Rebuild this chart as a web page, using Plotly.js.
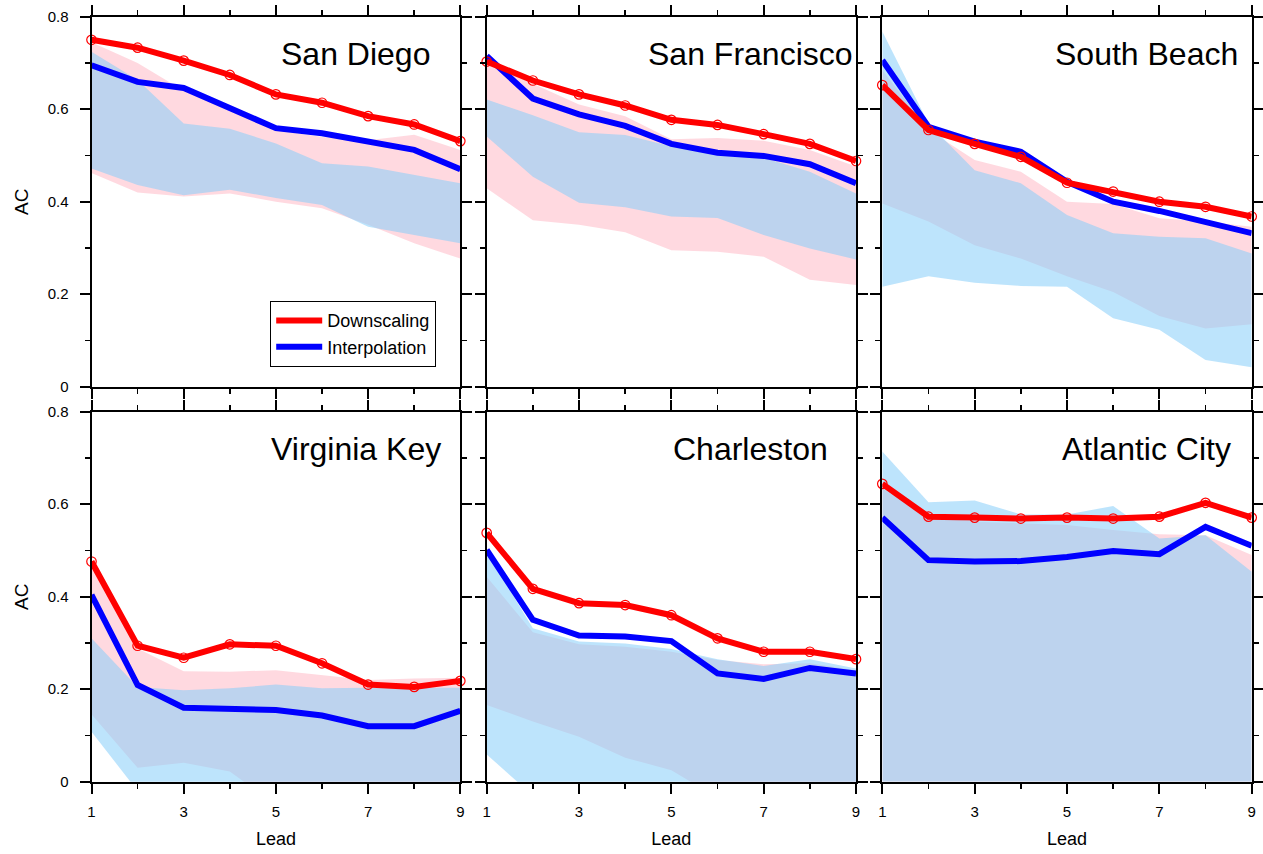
<!DOCTYPE html>
<html><head><meta charset="utf-8">
<script src="https://cdn.plot.ly/plotly-3.0.1.min.js"></script>
<style>body{margin:0;background:#fff}</style>
</head><body><div id="chart" style="width:1263px;height:854px"></div>
<script>
const leads = [1,2,3,4,5,6,7,8,9];
const xTickVals = [1,3,5,7,9];
const yTickVals = [0,0.2,0.4,0.6,0.8];
const stations = ["San Diego","San Francisco","South Beach","Virginia Key","Charleston","Atlantic City"];

// Downscaling mean AC, Interpolation mean AC, and band bounds, per station
const sanDiegoDown      = [0.750,0.733,0.705,0.674,0.632,0.614,0.585,0.567,0.531];
const sanDiegoInterp    = [0.695,0.659,0.646,0.604,0.559,0.548,0.530,0.512,0.470];
const sanDiegoDownHi    = [0.745,0.700,0.640,0.600,0.555,0.540,0.533,0.545,0.512];
const sanDiegoDownLo    = [0.462,0.420,0.411,0.418,0.400,0.386,0.350,0.310,0.277];
const sanDiegoInterpHi  = [0.724,0.663,0.569,0.558,0.526,0.483,0.476,0.458,0.440];
const sanDiegoInterpLo  = [0.472,0.436,0.414,0.426,0.408,0.393,0.346,0.328,0.310];

const sanFranDown       = [0.703,0.662,0.632,0.608,0.577,0.566,0.546,0.525,0.488];
const sanFranInterp     = [0.715,0.623,0.589,0.564,0.525,0.506,0.499,0.481,0.440];
const sanFranDownHi     = [0.700,0.655,0.610,0.585,0.535,0.538,0.532,0.512,0.476];
const sanFranDownLo     = [0.429,0.360,0.350,0.334,0.295,0.292,0.281,0.231,0.220];
const sanFranInterpHi   = [0.621,0.587,0.550,0.544,0.520,0.505,0.495,0.465,0.418];
const sanFranInterpLo   = [0.541,0.454,0.398,0.388,0.368,0.365,0.328,0.299,0.275];

const southBeachDown     = [0.652,0.555,0.525,0.497,0.441,0.422,0.400,0.389,0.368];
const southBeachInterp   = [0.706,0.562,0.530,0.508,0.443,0.400,0.380,0.355,0.332];
const southBeachDownHi   = [0.685,0.555,0.490,0.465,0.400,0.395,0.364,0.357,0.346];
const southBeachDownLo   = [0.396,0.357,0.306,0.277,0.239,0.205,0.153,0.126,0.135];
const southBeachInterpHi = [0.768,0.569,0.468,0.440,0.371,0.332,0.324,0.321,0.288];
const southBeachInterpLo = [0.216,0.239,0.225,0.218,0.216,0.148,0.123,0.058,0.042];

const virginiaKeyDown     = [0.476,0.294,0.268,0.297,0.294,0.256,0.210,0.205,0.218];
const virginiaKeyInterp   = [0.404,0.209,0.160,0.159,0.155,0.143,0.120,0.120,0.153];
const virginiaKeyDownHi   = [0.468,0.288,0.239,0.238,0.241,0.231,0.220,0.223,0.225];
const virginiaKeyDownLo   = [0.146,0.030,0.041,0.022,-0.050,-0.060,-0.070,-0.070,-0.080];
const virginiaKeyInterpHi = [0.310,0.205,0.198,0.202,0.210,0.202,0.203,0.203,0.203];
const virginiaKeyInterpLo = [0.108,-0.020,-0.030,-0.040,-0.060,-0.080,-0.090,-0.090,-0.100];

const charlestonDown     = [0.538,0.417,0.386,0.382,0.360,0.310,0.281,0.281,0.265];
const charlestonInterp   = [0.501,0.350,0.316,0.314,0.304,0.234,0.222,0.246,0.234];
const charlestonDownHi   = [0.443,0.323,0.297,0.292,0.281,0.263,0.254,0.256,0.241];
const charlestonDownLo   = [0.166,0.130,0.097,0.052,0.025,-0.035,-0.045,-0.050,-0.060];
const charlestonInterpHi = [0.497,0.332,0.303,0.299,0.287,0.265,0.250,0.265,0.245];
const charlestonInterpLo = [0.059,-0.030,-0.050,-0.060,-0.070,-0.080,-0.090,-0.100,-0.100];

const atlanticCityDown     = [0.644,0.573,0.571,0.569,0.571,0.569,0.573,0.603,0.571];
const atlanticCityInterp   = [0.571,0.479,0.476,0.477,0.486,0.499,0.492,0.551,0.510];
const atlanticCityDownHi   = [0.634,0.573,0.562,0.559,0.555,0.544,0.535,0.533,0.490];
const atlanticCityDownLo   = [0,0,0,0,0,0,0,0,0];
const atlanticCityInterpHi = [0.714,0.604,0.608,0.578,0.578,0.596,0.526,0.533,0.454];
const atlanticCityInterpLo = [0,0,0,0,0,0,0,0,0];

const panels = [
  [sanDiegoDown, sanDiegoInterp, sanDiegoDownHi, sanDiegoDownLo, sanDiegoInterpHi, sanDiegoInterpLo],
  [sanFranDown, sanFranInterp, sanFranDownHi, sanFranDownLo, sanFranInterpHi, sanFranInterpLo],
  [southBeachDown, southBeachInterp, southBeachDownHi, southBeachDownLo, southBeachInterpHi, southBeachInterpLo],
  [virginiaKeyDown, virginiaKeyInterp, virginiaKeyDownHi, virginiaKeyDownLo, virginiaKeyInterpHi, virginiaKeyInterpLo],
  [charlestonDown, charlestonInterp, charlestonDownHi, charlestonDownLo, charlestonInterpHi, charlestonInterpLo],
  [atlanticCityDown, atlanticCityInterp, atlanticCityDownHi, atlanticCityDownLo, atlanticCityInterpHi, atlanticCityInterpLo]
];

const W = 1263, H = 854;
const colPx = [[91.5,460.3],[486.7,856.0],[882.3,1251.7]];
const rowPx = [[16.7,386.7],[411.7,781.7]];
const FONT = "Liberation Sans, Arial, Helvetica, sans-serif";
const RED = "#ff0000", BLUE = "#0000ff";
const PINK_FILL = "rgba(255,192,203,0.6)";
const BLUE_FILL = "rgba(135,206,250,0.55)";

const traces = [];
const layout = {
  width: W, height: H,
  margin: {l:0, r:0, t:0, b:0},
  paper_bgcolor: "#ffffff", plot_bgcolor: "#ffffff",
  font: {family: FONT, color: "#000000", size: 15},
  showlegend: true,
  legend: {
    x: 270/W, y: 1 - 301/H, xanchor: "left", yanchor: "top",
    bordercolor: "#000000", borderwidth: 1.2, bgcolor: "#ffffff",
    font: {family: FONT, size: 18, color: "#000000"},
    itemwidth: 46, tracegroupgap: 0
  },
  annotations: []
};

panels.forEach((p, i) => {
  const [down, interp, dHi, dLo, iHi, iLo] = p;
  const s = i === 0 ? "" : String(i + 1);
  const xa = "x" + s, ya = "y" + s;
  const col = i % 3, row = Math.floor(i / 3);
  const base = {x: leads, xaxis: xa, yaxis: ya, hoverinfo: "skip", showlegend: false};

  traces.push(Object.assign({}, base, {y: dLo, mode: "lines", line: {width: 0, color: "rgba(0,0,0,0)"}}));
  traces.push(Object.assign({}, base, {y: dHi, mode: "lines", line: {width: 0, color: "rgba(0,0,0,0)"}, fill: "tonexty", fillcolor: PINK_FILL}));
  traces.push(Object.assign({}, base, {y: iLo, mode: "lines", line: {width: 0, color: "rgba(0,0,0,0)"}}));
  traces.push(Object.assign({}, base, {y: iHi, mode: "lines", line: {width: 0, color: "rgba(0,0,0,0)"}, fill: "tonexty", fillcolor: BLUE_FILL}));
  traces.push(Object.assign({}, base, {y: interp, mode: "lines", name: "Interpolation",
    line: {width: 6, color: BLUE}, showlegend: i === 0, legendgroup: "interp", legendrank: 2}));
  traces.push(Object.assign({}, base, {y: down, mode: "lines", name: "Downscaling",
    line: {width: 6, color: RED}, showlegend: i === 0, legendgroup: "down", legendrank: 1}));
  traces.push(Object.assign({}, base, {y: down, mode: "markers", cliponaxis: false,
    marker: {symbol: "circle-open", size: 9.5, color: RED, line: {width: 1.2, color: RED}}}));

  const xd = [colPx[col][0]/W, colPx[col][1]/W];
  const yd = [1 - rowPx[row][1]/H, 1 - rowPx[row][0]/H];
  const axCommon = {
    showline: true, linecolor: "#000000", linewidth: 2, mirror: "ticks",
    ticks: "outside", ticklen: 10, tickwidth: 2, tickcolor: "#000000",
    showgrid: false, zeroline: false, fixedrange: true,
    tickfont: {family: FONT, size: 15, color: "#000000"}
  };
  layout["xaxis" + s] = Object.assign({}, axCommon, {
    domain: xd, anchor: ya, range: [1, 9],
    tickmode: "array", tickvals: xTickVals, ticktext: xTickVals.map(String),
    minor: {ticks: "outside", ticklen: 5, tickwidth: 1.5, tickcolor: "#000000", dtick: 1, tick0: 1},
    showticklabels: row === 1,
    ticklabelstandoff: 5,
    title: row === 1 ? {text: "Lead", font: {family: FONT, size: 18, color: "#000000"}, standoff: 14} : {text: ""}
  });
  layout["yaxis" + s] = Object.assign({}, axCommon, {
    domain: yd, anchor: xa, range: [0, 0.8],
    tickmode: "array", tickvals: yTickVals, ticktext: yTickVals.map(v => String(v)),
    minor: {ticks: "outside", ticklen: 5, tickwidth: 1.5, tickcolor: "#000000", dtick: 0.1, tick0: 0},
    showticklabels: col === 0,
    ticklabelstandoff: 8,
    title: col === 0 ? {text: "AC", font: {family: FONT, size: 19, color: "#000000"}, standoff: 14} : {text: ""}
  });
  layout.annotations.push({
    text: stations[i], xref: "paper", yref: "paper",
    x: (colPx[col][0] + 264)/W, y: 1 - (rowPx[row][0] + 37)/H,
    xanchor: "center", yanchor: "middle", showarrow: false,
    font: {family: FONT, size: 32, color: "#000000"}
  });
});

Plotly.newPlot("chart", traces, layout, {displayModeBar: false, staticPlot: true});
</script>
</body></html>
